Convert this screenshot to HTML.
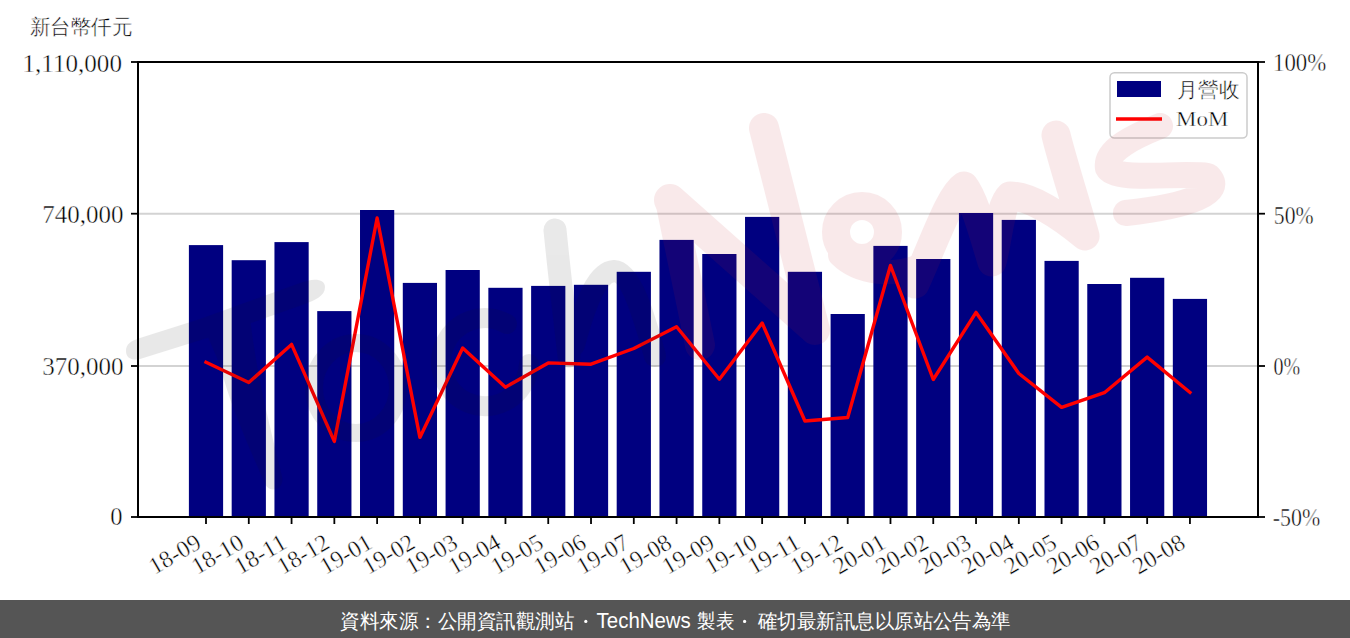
<!DOCTYPE html><html><head><meta charset="utf-8"><style>
html,body{margin:0;padding:0;background:#fff;width:1350px;height:638px;overflow:hidden;}
svg{position:absolute;left:0;top:0;}
.ft{position:absolute;left:0;top:600px;width:1350px;height:38px;background:#555555;}
</style></head><body>
<svg width="1350" height="638" viewBox="0 0 1350 638">
<line x1="139" y1="213.7" x2="1257" y2="213.7" stroke="#d3d3d3" stroke-width="2"/>
<line x1="139" y1="366" x2="1257" y2="366" stroke="#d3d3d3" stroke-width="2"/>
<rect x="188.89" y="245.1" width="34.22" height="272.4" fill="#000080"/>
<rect x="231.67" y="260.2" width="34.22" height="257.3" fill="#000080"/>
<rect x="274.45" y="242.1" width="34.22" height="275.4" fill="#000080"/>
<rect x="317.23" y="311.1" width="34.22" height="206.4" fill="#000080"/>
<rect x="360.01" y="210" width="34.22" height="307.5" fill="#000080"/>
<rect x="402.79" y="282.9" width="34.22" height="234.6" fill="#000080"/>
<rect x="445.57" y="270" width="34.22" height="247.5" fill="#000080"/>
<rect x="488.35" y="287.8" width="34.22" height="229.7" fill="#000080"/>
<rect x="531.13" y="285.9" width="34.22" height="231.6" fill="#000080"/>
<rect x="573.91" y="284.8" width="34.22" height="232.7" fill="#000080"/>
<rect x="616.69" y="271.8" width="34.22" height="245.7" fill="#000080"/>
<rect x="659.47" y="239.9" width="34.22" height="277.6" fill="#000080"/>
<rect x="702.25" y="254" width="34.22" height="263.5" fill="#000080"/>
<rect x="745.03" y="216.9" width="34.22" height="300.6" fill="#000080"/>
<rect x="787.81" y="271.8" width="34.22" height="245.7" fill="#000080"/>
<rect x="830.59" y="314" width="34.22" height="203.5" fill="#000080"/>
<rect x="873.37" y="245.9" width="34.22" height="271.6" fill="#000080"/>
<rect x="916.15" y="259" width="34.22" height="258.5" fill="#000080"/>
<rect x="958.93" y="213" width="34.22" height="304.5" fill="#000080"/>
<rect x="1001.71" y="219.9" width="34.22" height="297.6" fill="#000080"/>
<rect x="1044.49" y="260.9" width="34.22" height="256.6" fill="#000080"/>
<rect x="1087.27" y="284" width="34.22" height="233.5" fill="#000080"/>
<rect x="1130.05" y="277.8" width="34.22" height="239.7" fill="#000080"/>
<rect x="1172.83" y="298.9" width="34.22" height="218.6" fill="#000080"/>
<polyline points="206,362.3 248.78,382.5 291.56,344.4 334.34,441.4 377.12,218 419.9,437.4 462.68,348.1 505.46,387.25 548.24,362.9 591.02,364.2 633.8,348.5 676.58,326.7 719.36,379.2 762.14,323 804.92,421 847.7,417.5 890.48,265.5 933.26,379.5 976.04,312.4 1018.82,373.5 1061.6,407.3 1104.38,392.7 1147.16,357.1 1189.94,392.4" fill="none" stroke="#ff0000" stroke-width="3.4" stroke-linejoin="round" stroke-linecap="square"/>
<path d="M138,62 V517 H1258 V62 Z" fill="none" stroke="#000" stroke-width="2"/>
<line x1="131" y1="62" x2="138" y2="62" stroke="#000" stroke-width="1.8"/>
<line x1="1258" y1="62" x2="1265" y2="62" stroke="#000" stroke-width="1.8"/>
<line x1="131" y1="213.7" x2="138" y2="213.7" stroke="#000" stroke-width="1.8"/>
<line x1="1258" y1="213.7" x2="1265" y2="213.7" stroke="#000" stroke-width="1.8"/>
<line x1="131" y1="366" x2="138" y2="366" stroke="#000" stroke-width="1.8"/>
<line x1="1258" y1="366" x2="1265" y2="366" stroke="#000" stroke-width="1.8"/>
<line x1="131" y1="517" x2="138" y2="517" stroke="#000" stroke-width="1.8"/>
<line x1="1258" y1="517" x2="1265" y2="517" stroke="#000" stroke-width="1.8"/>
<line x1="206" y1="517" x2="206" y2="524" stroke="#000" stroke-width="1.8"/>
<line x1="248.78" y1="517" x2="248.78" y2="524" stroke="#000" stroke-width="1.8"/>
<line x1="291.56" y1="517" x2="291.56" y2="524" stroke="#000" stroke-width="1.8"/>
<line x1="334.34" y1="517" x2="334.34" y2="524" stroke="#000" stroke-width="1.8"/>
<line x1="377.12" y1="517" x2="377.12" y2="524" stroke="#000" stroke-width="1.8"/>
<line x1="419.9" y1="517" x2="419.9" y2="524" stroke="#000" stroke-width="1.8"/>
<line x1="462.68" y1="517" x2="462.68" y2="524" stroke="#000" stroke-width="1.8"/>
<line x1="505.46" y1="517" x2="505.46" y2="524" stroke="#000" stroke-width="1.8"/>
<line x1="548.24" y1="517" x2="548.24" y2="524" stroke="#000" stroke-width="1.8"/>
<line x1="591.02" y1="517" x2="591.02" y2="524" stroke="#000" stroke-width="1.8"/>
<line x1="633.8" y1="517" x2="633.8" y2="524" stroke="#000" stroke-width="1.8"/>
<line x1="676.58" y1="517" x2="676.58" y2="524" stroke="#000" stroke-width="1.8"/>
<line x1="719.36" y1="517" x2="719.36" y2="524" stroke="#000" stroke-width="1.8"/>
<line x1="762.14" y1="517" x2="762.14" y2="524" stroke="#000" stroke-width="1.8"/>
<line x1="804.92" y1="517" x2="804.92" y2="524" stroke="#000" stroke-width="1.8"/>
<line x1="847.7" y1="517" x2="847.7" y2="524" stroke="#000" stroke-width="1.8"/>
<line x1="890.48" y1="517" x2="890.48" y2="524" stroke="#000" stroke-width="1.8"/>
<line x1="933.26" y1="517" x2="933.26" y2="524" stroke="#000" stroke-width="1.8"/>
<line x1="976.04" y1="517" x2="976.04" y2="524" stroke="#000" stroke-width="1.8"/>
<line x1="1018.82" y1="517" x2="1018.82" y2="524" stroke="#000" stroke-width="1.8"/>
<line x1="1061.6" y1="517" x2="1061.6" y2="524" stroke="#000" stroke-width="1.8"/>
<line x1="1104.38" y1="517" x2="1104.38" y2="524" stroke="#000" stroke-width="1.8"/>
<line x1="1147.16" y1="517" x2="1147.16" y2="524" stroke="#000" stroke-width="1.8"/>
<line x1="1189.94" y1="517" x2="1189.94" y2="524" stroke="#000" stroke-width="1.8"/>
<g font-family="Liberation Serif" fill="#000" stroke="#fff" stroke-width="0.45">
<text x="122" y="72" font-size="25" text-anchor="end" textLength="99.54" lengthAdjust="spacingAndGlyphs">1,110,000</text>
<text x="123.6" y="223.1" font-size="25" text-anchor="end" textLength="81.28" lengthAdjust="spacingAndGlyphs">740,000</text>
<text x="123.6" y="375.3" font-size="25" text-anchor="end" textLength="81.28" lengthAdjust="spacingAndGlyphs">370,000</text>
<text x="122.6" y="524.8" font-size="25" text-anchor="end" textLength="12.27" lengthAdjust="spacingAndGlyphs">0</text>
<text x="1273" y="71" font-size="25" text-anchor="start" textLength="53.25" lengthAdjust="spacingAndGlyphs">100%</text>
<text x="1273.8" y="223.7" font-size="25" text-anchor="start" textLength="39.74" lengthAdjust="spacingAndGlyphs">50%</text>
<text x="1273.6" y="374.5" font-size="25" text-anchor="start" textLength="26.67" lengthAdjust="spacingAndGlyphs">0%</text>
<text x="1272.8" y="525.6" font-size="25" text-anchor="start" textLength="47.46" lengthAdjust="spacingAndGlyphs">-50%</text>
<text x="202.8" y="547" font-size="24" text-anchor="end" textLength="55.8" lengthAdjust="spacingAndGlyphs" transform="rotate(-30 202.8 547)">18-09</text>
<text x="245.58" y="547" font-size="24" text-anchor="end" textLength="55.8" lengthAdjust="spacingAndGlyphs" transform="rotate(-30 245.58 547)">18-10</text>
<text x="288.36" y="547" font-size="24" text-anchor="end" textLength="55.8" lengthAdjust="spacingAndGlyphs" transform="rotate(-30 288.36 547)">18-11</text>
<text x="331.14" y="547" font-size="24" text-anchor="end" textLength="55.8" lengthAdjust="spacingAndGlyphs" transform="rotate(-30 331.14 547)">18-12</text>
<text x="373.92" y="547" font-size="24" text-anchor="end" textLength="55.8" lengthAdjust="spacingAndGlyphs" transform="rotate(-30 373.92 547)">19-01</text>
<text x="416.7" y="547" font-size="24" text-anchor="end" textLength="55.8" lengthAdjust="spacingAndGlyphs" transform="rotate(-30 416.7 547)">19-02</text>
<text x="459.48" y="547" font-size="24" text-anchor="end" textLength="55.8" lengthAdjust="spacingAndGlyphs" transform="rotate(-30 459.48 547)">19-03</text>
<text x="502.26" y="547" font-size="24" text-anchor="end" textLength="55.8" lengthAdjust="spacingAndGlyphs" transform="rotate(-30 502.26 547)">19-04</text>
<text x="545.04" y="547" font-size="24" text-anchor="end" textLength="55.8" lengthAdjust="spacingAndGlyphs" transform="rotate(-30 545.04 547)">19-05</text>
<text x="587.82" y="547" font-size="24" text-anchor="end" textLength="55.8" lengthAdjust="spacingAndGlyphs" transform="rotate(-30 587.82 547)">19-06</text>
<text x="630.6" y="547" font-size="24" text-anchor="end" textLength="55.8" lengthAdjust="spacingAndGlyphs" transform="rotate(-30 630.6 547)">19-07</text>
<text x="673.38" y="547" font-size="24" text-anchor="end" textLength="55.8" lengthAdjust="spacingAndGlyphs" transform="rotate(-30 673.38 547)">19-08</text>
<text x="716.16" y="547" font-size="24" text-anchor="end" textLength="55.8" lengthAdjust="spacingAndGlyphs" transform="rotate(-30 716.16 547)">19-09</text>
<text x="758.94" y="547" font-size="24" text-anchor="end" textLength="55.8" lengthAdjust="spacingAndGlyphs" transform="rotate(-30 758.94 547)">19-10</text>
<text x="801.72" y="547" font-size="24" text-anchor="end" textLength="55.8" lengthAdjust="spacingAndGlyphs" transform="rotate(-30 801.72 547)">19-11</text>
<text x="844.5" y="547" font-size="24" text-anchor="end" textLength="55.8" lengthAdjust="spacingAndGlyphs" transform="rotate(-30 844.5 547)">19-12</text>
<text x="887.28" y="547" font-size="24" text-anchor="end" textLength="55.8" lengthAdjust="spacingAndGlyphs" transform="rotate(-30 887.28 547)">20-01</text>
<text x="930.06" y="547" font-size="24" text-anchor="end" textLength="55.8" lengthAdjust="spacingAndGlyphs" transform="rotate(-30 930.06 547)">20-02</text>
<text x="972.84" y="547" font-size="24" text-anchor="end" textLength="55.8" lengthAdjust="spacingAndGlyphs" transform="rotate(-30 972.84 547)">20-03</text>
<text x="1015.62" y="547" font-size="24" text-anchor="end" textLength="55.8" lengthAdjust="spacingAndGlyphs" transform="rotate(-30 1015.62 547)">20-04</text>
<text x="1058.4" y="547" font-size="24" text-anchor="end" textLength="55.8" lengthAdjust="spacingAndGlyphs" transform="rotate(-30 1058.4 547)">20-05</text>
<text x="1101.18" y="547" font-size="24" text-anchor="end" textLength="55.8" lengthAdjust="spacingAndGlyphs" transform="rotate(-30 1101.18 547)">20-06</text>
<text x="1143.96" y="547" font-size="24" text-anchor="end" textLength="55.8" lengthAdjust="spacingAndGlyphs" transform="rotate(-30 1143.96 547)">20-07</text>
<text x="1186.74" y="547" font-size="24" text-anchor="end" textLength="55.8" lengthAdjust="spacingAndGlyphs" transform="rotate(-30 1186.74 547)">20-08</text>
</g>
<text x="29.6" y="34.2" font-family="Liberation Serif" font-size="20.67" textLength="103.12" lengthAdjust="spacingAndGlyphs" fill="#000" stroke="#fff" stroke-width="0.45">新台幣仟元</text>
<rect x="1110" y="72.8" width="137" height="65.2" rx="4.5" ry="4.5" fill="#fff" fill-opacity="0.8" stroke="#cccccc" stroke-width="1.5"/>
<rect x="1117" y="81" width="44" height="16" fill="#000080"/>
<line x1="1116" y1="119" x2="1162" y2="119" stroke="#ff0000" stroke-width="3.5"/>
<text x="1177.2" y="96.6" font-family="Liberation Serif" font-size="21.1" textLength="62.43" lengthAdjust="spacingAndGlyphs" fill="#000" stroke="#fff" stroke-width="0.45">月營收</text>
<text x="1176" y="125.8" font-family="Liberation Serif" font-size="22" textLength="52.33" lengthAdjust="spacingAndGlyphs" fill="#000" stroke="#fff" stroke-width="0.45">MoM</text>
<g opacity="0.095" fill="#191919" stroke="#191919" stroke-linecap="round" stroke-linejoin="round">
<path stroke="none" d="M126,351 C126,344 131,341 140,338 L200,319 L300,283 C312,278 325,278 325,287 C325,296 315,300 305,304 L220,334 L140,359 C132,361 126,358 126,351 Z"/>
<path stroke="none" d="M205,330 L250,318 C256,370 268,420 282,476 C285,490 270,494 265,484 C246,440 230,405 220,365 Z"/>
<ellipse cx="356" cy="388" rx="42" ry="45" fill="none" stroke-width="18"/>
<path d="M507,324 A44,44 0 1 0 529,364" fill="none" stroke-width="20"/>
<path d="M555,230 C560,280 566,330 569,356" fill="none" stroke-width="23"/>
<path d="M574,345 C586,300 598,272 614,271 C632,272 645,320 655,356" fill="none" stroke-width="22"/>
</g><g opacity="0.095" fill="#c3232d" stroke="#c3232d" stroke-linecap="round" stroke-linejoin="round">
<path d="M670,200 L700,345" fill="none" stroke-width="30"/>
<path d="M670,200 L812,326" fill="none" stroke-width="32"/>
<path d="M764,128 L815,330" fill="none" stroke-width="30"/>
<circle cx="862" cy="232" r="26" fill="none" stroke-width="28"/>
<path d="M840,255 C860,275 895,276 920,266" fill="none" stroke-width="24"/>
<path d="M915,284 C935,240 950,195 964,186 C975,200 985,240 992,262 C998,240 1000,205 1010,196 C1030,196 1060,215 1085,236 C1075,200 1062,160 1056,135" fill="none" stroke-width="29"/>
<path d="M1160,126 C1135,136 1105,150 1108,168 C1115,182 1180,172 1208,176 C1225,192 1190,206 1126,213" fill="none" stroke-width="26"/>
</g>
</svg>
<div class="ft"><svg width="1350" height="38" style="position:absolute;left:0;top:0">
<text x="340" y="28" font-family="Liberation Sans" font-size="20" textLength="234" lengthAdjust="spacingAndGlyphs" fill="#fff">資料來源：公開資訊觀測站</text>
<text x="596.6" y="27.7" font-family="Liberation Sans" font-size="22" textLength="94.23" lengthAdjust="spacingAndGlyphs" fill="#fff">TechNews</text>
<text x="697" y="28" font-family="Liberation Sans" font-size="20" textLength="37" lengthAdjust="spacingAndGlyphs" fill="#fff">製表</text>
<text x="758" y="28" font-family="Liberation Sans" font-size="20" textLength="252.81" lengthAdjust="spacingAndGlyphs" fill="#fff">確切最新訊息以原站公告為準</text>
<circle cx="585.8" cy="21.4" r="1.6" fill="#fff"/>
<circle cx="744.6" cy="21.4" r="1.6" fill="#fff"/>
</svg></div>
</body></html>
